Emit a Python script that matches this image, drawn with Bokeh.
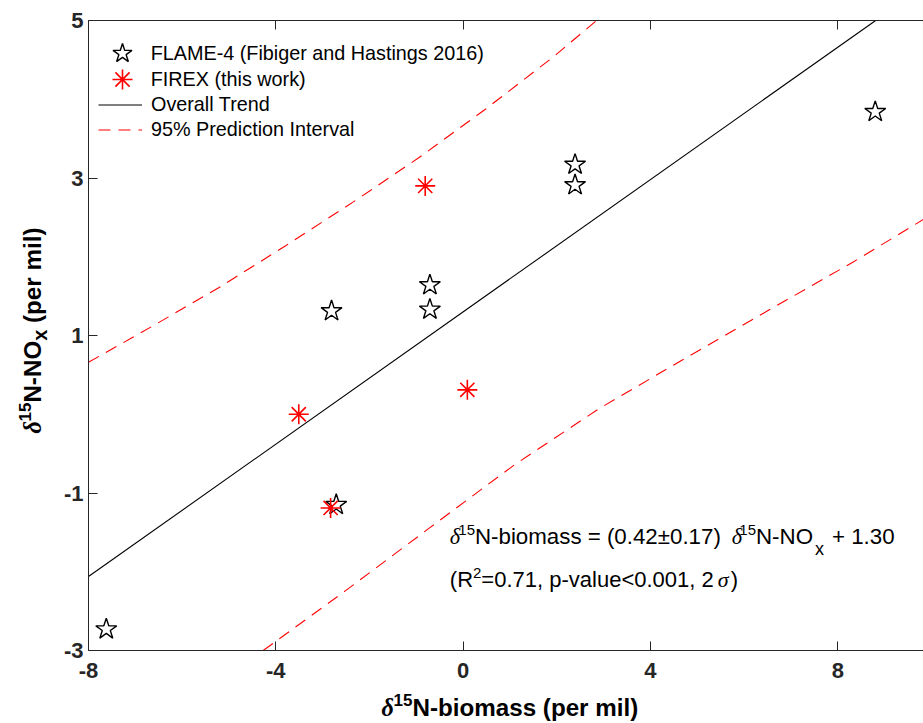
import math
from bokeh.plotting import figure
from bokeh.models import Range1d, FixedTicker, LinearAxis, Legend, LegendItem, Label
from bokeh.embed import file_html
from bokeh.resources import INLINE

# ---------------- data ----------------
flame_x = [8.80, 2.39, 2.39, -0.71, -0.71, -2.81, -2.71, -7.62]
flame_y = [3.84, 3.17, 2.91, 1.64, 1.33, 1.31, -1.15, -2.73]
firex_x = [-0.81, -3.51, 0.09, -2.83]
firex_y = [2.90, 0.00, 0.31, -1.19]
trend_slope = 0.42
trend_intercept = 1.30
upper_x = [-8.00, -6.63, -5.21, -3.79, -2.36, -0.94, 0.49, 1.91, 2.85]
upper_y = [0.66, 1.12, 1.61, 2.14, 2.69, 3.26, 3.88, 4.53, 5.00]
lower_x = [-4.27, -2.51, -0.71, 1.10, 2.90, 4.71, 6.52, 8.32, 9.90]
lower_y = [-3.00, -2.24, -1.44, -0.64, 0.07, 0.70, 1.32, 1.93, 2.50]
x_ticks = [-8, -4, 0, 4, 8]
y_ticks = [-3, -1, 1, 3, 5]
x_lim = (-8, 10)
y_lim = (-3, 5)
trend_x = [x_lim[0], (y_lim[1] - trend_intercept) / trend_slope]
trend_y = [trend_slope * v + trend_intercept for v in trend_x]

# ---------------- layout constants (pixels) ----------------
W, H = 923, 723
AX_L, AX_T, AX_B = 88, 20, 650          # axes box left / top / bottom in pixels
PX_X = 46.83                             # pixels per x unit
PX_Y = (AX_B - AX_T) / (y_lim[1] - y_lim[0])
xr = Range1d(x_lim[0] - AX_L / PX_X, x_lim[0] + (W - AX_L) / PX_X)
yr = Range1d(y_lim[0] - (H - AX_B) / PX_Y, y_lim[1] + AX_T / PX_Y)


def px2x(px):
    return x_lim[0] + (px - AX_L) / PX_X


def py2y(py):
    return y_lim[0] - (py - AX_B) / PX_Y


SANS = "Liberation Sans"
SERIF = "Liberation Serif"
AXC = "#262626"
BASE_K = 0.36   # baseline correction (fraction of font size)

AR = {' ': 278, '(': 333, ')': 333, '+': 584, ',': 278, '-': 333, '.': 278, '<': 584,
      '=': 584, '±': 549, 'N': 722, 'O': 778, 'R': 722, 'a': 556, 'b': 556, 'e': 556,
      'i': 222, 'l': 222, 'm': 833, 'o': 556, 'p': 556, 's': 500, 'u': 556, 'v': 500,
      'x': 500, 'r': 333}
AB = {' ': 278, '(': 333, ')': 333, '-': 333, 'N': 722, 'O': 778, 'a': 556, 'b': 611,
      'e': 556, 'i': 278, 'l': 278, 'm': 889, 'o': 611, 'p': 611, 'r': 389, 's': 556,
      'x': 556}


def tw(s, size, bold):
    t = AB if bold else AR
    return sum(t.get(c, 556) for c in s) * size / 1000.0


def pieces_layout(p, pieces, x, y, vertical=False, center=False):
    # pieces: (text, size, font, style, shift, advance or None); text None = spacer
    advs = []
    for (t, size, font, style, shift, adv) in pieces:
        if adv is None:
            adv = tw(t, size, "bold" in style)
        advs.append(adv)
    total = sum(advs)
    cum = -total / 2.0 if center else 0.0
    for (t, size, font, style, shift, adv), a in zip(pieces, advs):
        if t is not None:
            up = shift + BASE_K * size
            if vertical:
                xo, yo, ang = -up, cum, math.pi / 2
            else:
                xo, yo, ang = cum, up, 0
            p.add_layout(Label(x=x, y=y, x_units="data", y_units="data", text=t,
                               text_font=font, text_font_size=f"{size}px",
                               text_font_style=style, text_color="black",
                               text_align="left", text_baseline="alphabetic",
                               angle=ang, x_offset=xo, y_offset=yo))
        cum += a


# ---------------- figure ----------------
p = figure(width=W, height=H, x_range=xr, y_range=yr,
           output_backend="svg", toolbar_location=None,
           min_border_left=0, min_border_right=0, min_border_top=0, min_border_bottom=0,
           outline_line_color=None, background_fill_color="white", border_fill_color="white")
p.xgrid.visible = False
p.ygrid.visible = False


def style_axis(ax, ticks, loc, bounds, labels=True):
    ax.ticker = FixedTicker(ticks=ticks)
    ax.fixed_location = loc
    ax.bounds = bounds
    ax.major_tick_in = 9
    ax.major_tick_out = 0
    ax.minor_tick_in = 0
    ax.minor_tick_out = 0
    ax.axis_line_color = AXC
    ax.major_tick_line_color = AXC
    ax.axis_line_width = 1
    if labels:
        ax.major_label_overrides = {t: str(t) for t in ticks}
        ax.major_label_text_font = SANS
        ax.major_label_text_font_style = "bold"
        ax.major_label_text_font_size = "22px"
        ax.major_label_text_color = AXC
    else:
        ax.major_label_overrides = {t: "" for t in ticks}


style_axis(p.xaxis[0], x_ticks, y_lim[0], x_lim)
style_axis(p.yaxis[0], y_ticks, x_lim[0], y_lim)
p.xaxis[0].major_label_standoff = 12
p.yaxis[0].major_label_standoff = 5

top = LinearAxis()
style_axis(top, x_ticks, y_lim[1], x_lim, labels=False)
p.add_layout(top, "above")

# ---------------- marks ----------------
r_trend = p.line(trend_x, trend_y, line_color="black", line_width=1.1)
r_up = p.line(upper_x, upper_y, line_color="#FF0000", line_width=1.1, line_dash="12 8")
r_lo = p.line(lower_x, lower_y, line_color="#FF0000", line_width=1.1, line_dash="12 8")
r_flame = p.scatter(flame_x, flame_y, marker="star", size=22, fill_color=None,
                    line_color="black", line_width=1.4)
r_firex = p.scatter(firex_x, firex_y, marker="asterisk", size=20,
                    line_color="#FF0000", line_width=1.6)

# ---------------- legends ----------------
common = dict(padding=0, margin=0, border_line_color=None, background_fill_alpha=0,
              label_text_font=SANS, label_text_font_size="19.8px", label_text_color="black")
leg1 = Legend(items=[LegendItem(label="FLAME-4 (Fibiger and Hastings 2016)", renderers=[r_flame])],
              location=(96.7, H - 78.3), glyph_width=50, glyph_height=50, spacing=0,
              label_standoff=4, label_height=50, **common)
leg2 = Legend(items=[LegendItem(label="FIREX (this work)", renderers=[r_firex])],
              location=(96.7, H - 104), glyph_width=50, glyph_height=50, spacing=0,
              label_standoff=4, label_height=50, **common)
leg3 = Legend(items=[LegendItem(label="Overall Trend", renderers=[r_trend]),
                     LegendItem(label="95% Prediction Interval", renderers=[r_up])],
              location=(98, H - 141.5), glyph_width=44, glyph_height=25, spacing=0,
              label_standoff=9, label_height=25, **common)
p.add_layout(leg1)
p.add_layout(leg2)
p.add_layout(leg3)

# ---------------- equation text ----------------
N = "normal"
I = "italic"
F = 22.3
F2 = 22.0
eq1 = [("δ", F, SERIF, I, 0, 8.5), ("15", 15, SANS, N, 9, None),
       ("N-biomass = (0.42±0.17)", F, SANS, N, 0, None), (None, F, SANS, N, 0, 11),
       ("δ", F, SERIF, I, 0, 7.5), ("15", 15, SANS, N, 9, None),
       ("N-NO", F, SANS, N, 0, None), (None, F, SANS, N, 0, 2),
       ("x", 18, SANS, N, -11, None), (None, F, SANS, N, 0, 8),
       ("+ 1.30", F, SANS, N, 0, None)]
pieces_layout(p, eq1, px2x(449.3), py2y(544.3))
eq2 = [("(R", F2, SANS, N, 0, None), ("2", 15, SANS, N, 9, None),
       ("=0.71, p-value<0.001, 2", F2, SANS, N, 0, None), (None, F2, SANS, N, 0, 4),
       ("σ", F2, SERIF, I, 0, 13), (")", F2, SANS, N, 0, None)]
pieces_layout(p, eq2, px2x(449.3), py2y(586.5))

# ---------------- axis titles ----------------
B = "bold"
BI = "bold italic"
xlab = [("δ", 24.2, SERIF, BI, 0, 12), ("15", 17, SANS, B, 10, None),
        ("N-biomass (per mil)", 24.2, SANS, B, 0, None)]
pieces_layout(p, xlab, (x_lim[0] + x_lim[1]) / 2, py2y(716), center=True)
ylab = [("δ", 24.2, SERIF, BI, 0, 12), ("15", 17, SANS, B, 10, None),
        ("N-NO", 24.2, SANS, B, 0, None), ("x", 20, SANS, B, -6, None),
        (None, 24.2, SANS, B, 0, 6.7), ("(per mil)", 24.2, SANS, B, 0, None)]
pieces_layout(p, ylab, px2x(41), py2y(330), vertical=True, center=True)

open("out.html", "w").write(file_html(p, INLINE))
